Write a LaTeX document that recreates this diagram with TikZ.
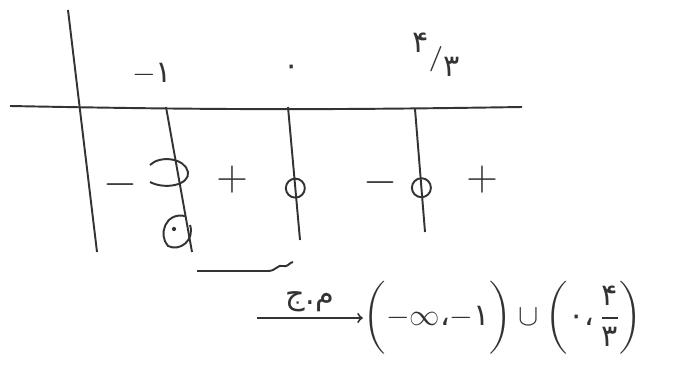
\documentclass[tikz,border=0pt]{standalone}
\usepackage{amsmath,amssymb}
\usepackage{fontspec}
\usepackage{tikz}
\usetikzlibrary{arrows, positioning}
\newfontfamily\fa[Script=Arabic]{DejaVu Sans}
\TeXXeTstate=1

\begin{document}
\begin{tikzpicture}[x=0.02cm, y=-0.02cm, >=to, line width=1.1pt, color=black!80,
    sign/.style={font=\Huge, inner sep=0pt},
    zero/.style={draw, circle, minimum size=0.38cm, inner sep=0pt, line width=1.1pt},
    lbl/.style={font=\LARGE\fa, inner sep=0pt}]
    \fill[white] (0,0) rectangle (675,374);
    \useasboundingbox (0,0) rectangle (675,374);

    % axis and columns of the sign table
    \coordinate (axl) at (10,106);
    \coordinate (axr) at (522,107);
    \coordinate (lt) at (68,10);
    \coordinate (lb) at (97,252);
    \coordinate (m1t) at (166,107);
    \coordinate (m1b) at (192,252);
    \coordinate (z0t) at (288,107);
    \coordinate (z0b) at (300,240);
    \coordinate (r43t) at (415,109);
    \coordinate (r43b) at (425,232);

    \draw (axl) to[bend right=1] (axr);
    \draw (lt) -- (lb);
    \draw (m1t) -- (m1b);
    \draw (z0t) -- node[zero, pos=0.61] (c0) {} (z0b);
    \draw (r43t) -- node[zero, pos=0.64] (c43) {} (r43b);

    % roots
    \node[lbl] (lm1) at (152,74) {$-${\fa ۱}};
    \node[lbl] (l0) at (292,70) {۰};
    \node[lbl] (l43) at (436,55) {\raisebox{0.8ex}{۴}\Large$\boldsymbol{/}$\raisebox{-0.8ex}{\LARGE ۳}};

    % signs
    \node[sign] (s1) at (120,185) {$-$};
    \node[sign] (s2) at (232,180) {$+$};
    \node[sign] (s3) at (380,183) {$-$};
    \node[sign] (s4) at (482,180) {$+$};

    % marks at -1
    \draw (150,165) .. controls (160,155) and (185,158) .. (188,172)
        .. controls (190,185) and (165,190) .. (150,182);
    \draw (185,216) .. controls (165,212) and (158,235) .. (168,246)
        .. controls (180,252) and (195,240) .. (190,225);
    \fill (174,229) circle (1.2pt);

    % squiggle under (-1,0)
    \draw (197,271) -- (268,271) .. controls (276,271) and (278,264) .. (283,266)
        .. controls (287,268) and (290,262) .. (293,262);

    % answer
    \node[font=\LARGE, inner sep=0pt] (ans) at (503,318)
        {$\biggl({-}\infty\text{\fa ،}{-}\text{\fa ۱}\biggr)\cup\biggl(\text{\fa ۰}\text{\fa ،}\,\dfrac{\text{\fa ۴}}{\text{\fa ۳}}\biggr)$};
    \coordinate (arrs) at (257,318);
    \draw[->] (arrs) -- node[lbl, font=\LARGE\fa, above=3pt] (jm) {\beginR م.ج\endR} (ans.west);
\end{tikzpicture}
\end{document}
